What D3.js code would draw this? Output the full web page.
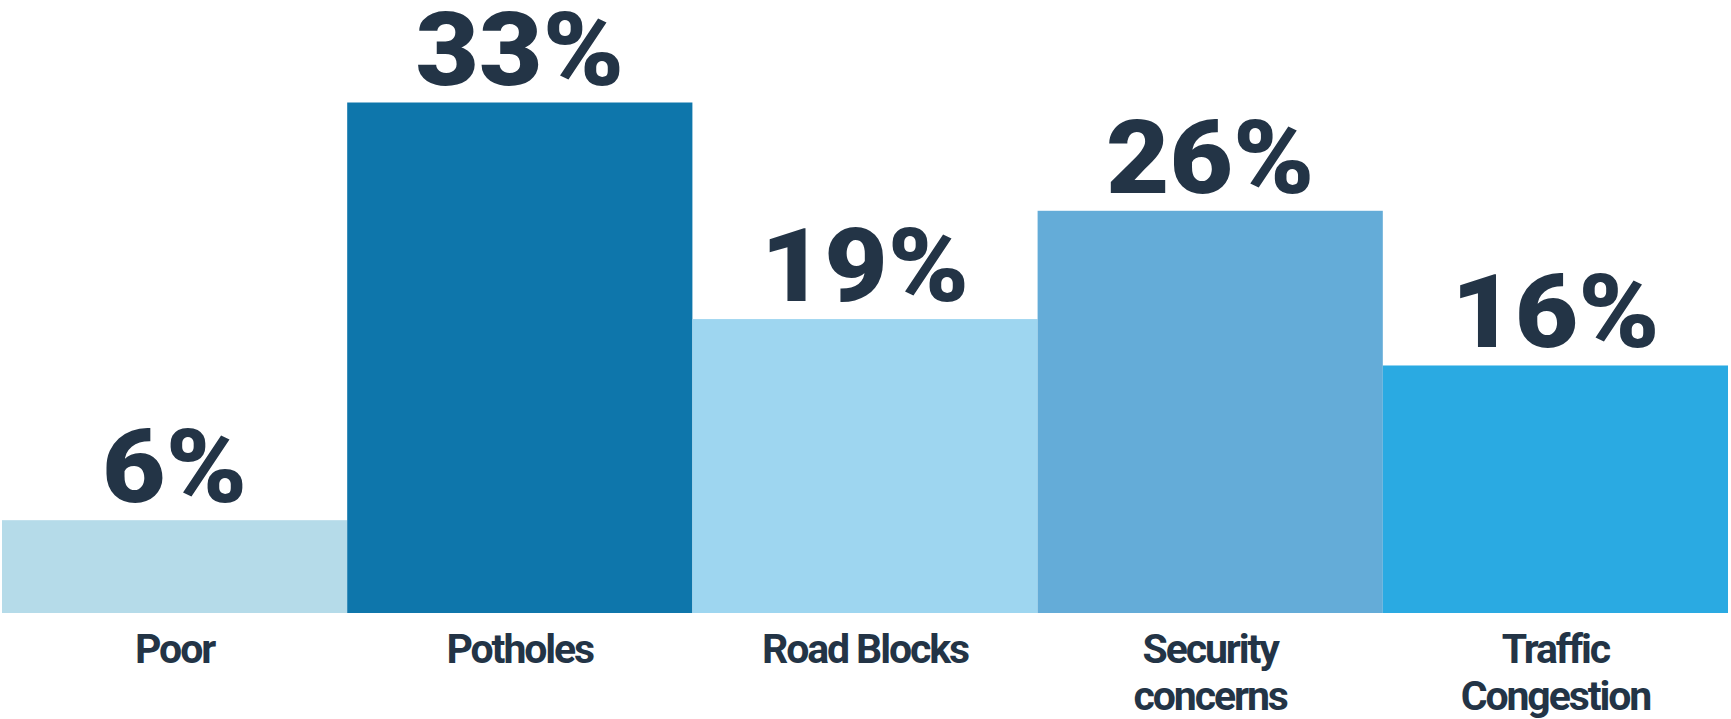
<!DOCTYPE html>
<html>
<head>
<meta charset="utf-8">
<script src="https://cdn.jsdelivr.net/npm/d3@7"></script>
<style>
  html, body { margin: 0; padding: 0; background: #ffffff; }
  svg { display: block; }
</style>
</head>
<body>
<svg id="chart" width="1731" height="719"></svg>
<script>
// Road issue shares (percent)
const categories = ["Poor", "Potholes", "Road Blocks", "Security concerns", "Traffic Congestion"];
const values = [6, 33, 19, 26, 16];
const valueLabels = ["6%", "33%", "19%", "26%", "16%"];
// Category names split into display lines
const categoryLines = [["Poor"], ["Potholes"], ["Road Blocks"], ["Security", "concerns"], ["Traffic", "Congestion"]];
const barColors = ["#b5dbe9", "#0e76ab", "#9ed6f0", "#64acd8", "#2aaae2"];

const textColor = "#233446";
const svg = d3.select("#chart");

const x = d3.scaleBand()
  .domain(categories)
  .range([2, 1728])
  .padding(0);

const y = d3.scaleLinear()
  .domain([0, 33])
  .range([613, 102.5]);

const rows = categories.map((c, i) => ({
  cat: c, value: values[i], label: valueLabels[i], lines: categoryLines[i], color: barColors[i]
}));

const cx = d => x(d.cat) + x.bandwidth() / 2;

// Bars
svg.append("g")
  .selectAll("rect")
  .data(rows)
  .join("rect")
  .attr("x", d => x(d.cat))
  .attr("y", d => y(d.value))
  .attr("width", x.bandwidth())
  .attr("height", d => y(0) - y(d.value))
  .attr("fill", d => d.color);

// Value labels above bars, slightly widened for a heavy display look
svg.append("g")
  .selectAll("text")
  .data(rows)
  .join("text")
  .attr("transform", d => `translate(${cx(d)},${y(d.value) - 18}) scale(1.075,1)`)
  .attr("text-anchor", "middle")
  .attr("font-family", "Roboto, sans-serif")
  .attr("font-weight", 900)
  .attr("font-size", 102)
  .attr("fill", textColor)
  .text(d => d.label);

// Category axis labels
const catText = svg.append("g")
  .selectAll("text")
  .data(rows)
  .join("text")
  .attr("x", cx)
  .attr("y", 663)
  .attr("text-anchor", "middle")
  .attr("font-family", "Roboto, sans-serif")
  .attr("font-weight", 700)
  .attr("font-size", 41)
  .attr("letter-spacing", -2.1)
  .attr("fill", textColor);

catText.selectAll("tspan")
  .data(d => d.lines.map(l => ({ line: l, cx: cx(d) })))
  .join("tspan")
  .attr("x", d => d.cx)
  .attr("dy", (d, i) => i === 0 ? 0 : 46.5)
  .text(d => d.line);
</script>
</body>
</html>
